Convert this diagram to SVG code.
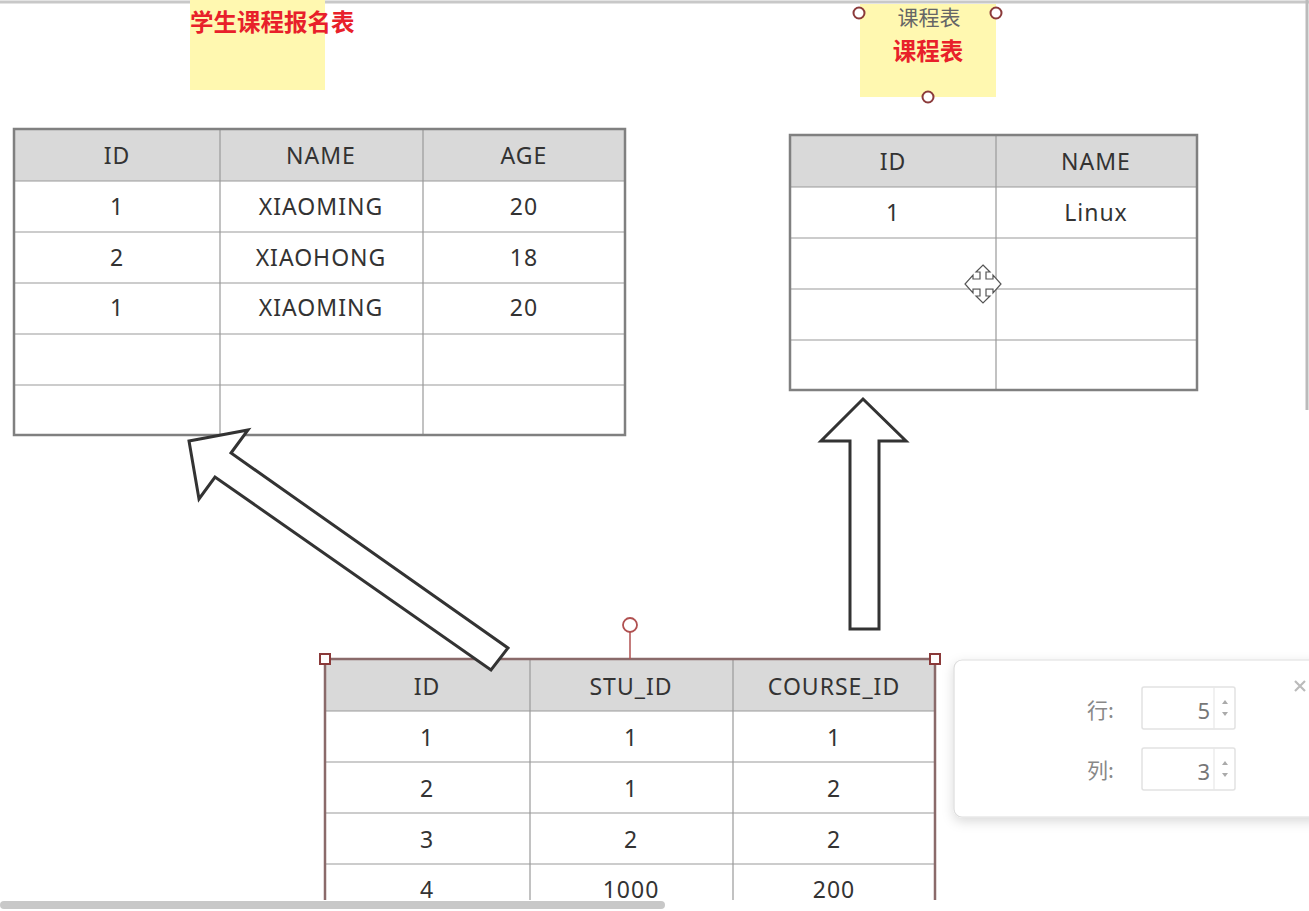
<svg xmlns="http://www.w3.org/2000/svg" width="1309" height="911" viewBox="0 0 1309 911">
<defs>
<style>
.t{font-family:"Noto Sans","Open Sans","Liberation Sans",sans-serif;font-size:23px;letter-spacing:1px;fill:#333;text-anchor:middle}
.hd{fill:#d9d9d9}
.in{stroke:#9a9a9a;stroke-width:1.2;fill:none}
.out{stroke:#808080;stroke-width:2.5;fill:none}
.cj{font-family:"Noto Sans CJK SC","Noto Sans",sans-serif}
.red{fill:#e8202a;font-weight:bold;font-size:23.5px}
.arrow{fill:#fff;stroke:#333;stroke-width:3;stroke-linejoin:miter}
.hdl{fill:#fff;stroke:#8b3a3a;stroke-width:2}
.dl{font-family:"Noto Sans CJK SC","Noto Sans",sans-serif;font-size:21px;fill:#888}
</style>
<filter id="sh" x="-10%" y="-10%" width="130%" height="140%"><feDropShadow dx="0" dy="4" stdDeviation="6" flood-color="#000" flood-opacity="0.15"/></filter>
</defs>
<rect width="1309" height="911" fill="#fff"/>
<line x1="0" y1="2" x2="1309" y2="2" stroke="#c8c8c8" stroke-width="3"/>
<line x1="1307" y1="0" x2="1307" y2="410" stroke="#bbb" stroke-width="3"/>

<g id="note-student">
<rect x="190" y="0" width="135" height="90" fill="#fff8b0"/>
<text x="190" y="31" class="cj red">学生课程报名表</text>
</g>

<g id="note-course">
<rect x="860" y="4" width="136" height="93" fill="#fff8b0"/>
<text x="929" y="25" class="cj" font-size="21" fill="#666" text-anchor="middle">课程表</text>
<text x="928" y="60" class="cj red" text-anchor="middle" font-size="23">课程表</text>
<circle cx="859" cy="13" r="5.5" class="hdl"/>
<circle cx="996" cy="13" r="5.5" class="hdl"/>
<circle cx="928" cy="97" r="5.5" class="hdl"/>
</g>

<g id="table-student">
<rect x="14" y="129" width="611" height="52" class="hd"/>
<path class="in" d="M220 129V435M423 129V435M14 181H625M14 232H625M14 283H625M14 334H625M14 385H625"/>
<rect x="14" y="129" width="611" height="306" class="out"/>
<text class="t" x="117" y="164">ID</text><text class="t" x="321" y="164">NAME</text><text class="t" x="524" y="164">AGE</text>
<text class="t" x="117" y="215">1</text><text class="t" x="321" y="215">XIAOMING</text><text class="t" x="524" y="215">20</text>
<text class="t" x="117" y="266">2</text><text class="t" x="321" y="266">XIAOHONG</text><text class="t" x="524" y="266">18</text>
<text class="t" x="117" y="316">1</text><text class="t" x="321" y="316">XIAOMING</text><text class="t" x="524" y="316">20</text>
</g>

<g id="table-course">
<rect x="790" y="135" width="407" height="52" class="hd"/>
<path class="in" d="M996 135V390M790 187H1197M790 238H1197M790 289H1197M790 340H1197"/>
<rect x="790" y="135" width="407" height="255" class="out"/>
<text class="t" x="893" y="170">ID</text><text class="t" x="1096" y="170">NAME</text>
<text class="t" x="893" y="221">1</text><text class="t" x="1096" y="221">Linux</text>
</g>

<g id="move-cursor" fill="#fff" stroke="#555" stroke-width="1.2">
<path d="M983 265L990 272H986V279H993V275L1001 284L993 293V289H986V296H990L983 303L976 296H980V289H973V293L965 284L973 275V279H980V272H976Z"/>
</g>

<g id="table-enroll">
<rect x="325" y="659" width="610" height="52" class="hd"/>
<path class="in" d="M530 659V911M733 659V911M325 711H935M325 762H935M325 813H935M325 864H935"/>
<path d="M325 911V659H935V911" fill="none" stroke="#8a6a6a" stroke-width="2.5"/>
<text class="t" x="427" y="695">ID</text><text class="t" x="631" y="695">STU_ID</text><text class="t" x="834" y="695">COURSE_ID</text>
<text class="t" x="427" y="746">1</text><text class="t" x="631" y="746">1</text><text class="t" x="834" y="746">1</text>
<text class="t" x="427" y="797">2</text><text class="t" x="631" y="797">1</text><text class="t" x="834" y="797">2</text>
<text class="t" x="427" y="848">3</text><text class="t" x="631" y="848">2</text><text class="t" x="834" y="848">2</text>
<text class="t" x="427" y="898">4</text><text class="t" x="631" y="898">1000</text><text class="t" x="834" y="898">200</text>
<line x1="630" y1="632" x2="630" y2="659" stroke="#b05050" stroke-width="1.5"/>
<circle cx="630" cy="625" r="7" fill="#fff" stroke="#b05050" stroke-width="1.8"/>
<rect x="320" y="654" width="10" height="10" class="hdl"/>
<rect x="930" y="654" width="10" height="10" class="hdl"/>
</g>

<g id="connectors">
<polygon class="arrow" points="189,441 248,430 231,453 508,648 491,670 215,477 199,499"/>
<polygon class="arrow" points="863,399 906,441 879,441 879,629 850,629 850,441 821,441"/>
</g>

<g id="dialog">
<rect x="954" y="660" width="370" height="157" rx="8" fill="#fff" stroke="#ddd" stroke-width="1.2" filter="url(#sh)"/>
<path d="M1295 681l10 10M1305 681l-10 10" stroke="#bbb" stroke-width="2.2"/>
<text x="1087" y="718" class="dl">行:</text>
<text x="1087" y="778" class="dl">列:</text>
<rect x="1142" y="687" width="93" height="42" fill="#fff" stroke="#e2e2e2" stroke-width="1.5" rx="2"/>
<line x1="1214" y1="687" x2="1214" y2="729" stroke="#e8e8e8" stroke-width="1.2"/>
<text x="1210" y="719" font-family="Noto Sans,sans-serif" font-size="22" fill="#777" text-anchor="end">5</text>
<path d="M1222 704l3-4 3 4ZM1222 712l3 4 3-4Z" fill="#aaa"/>
<rect x="1142" y="748" width="93" height="42" fill="#fff" stroke="#e2e2e2" stroke-width="1.5" rx="2"/>
<line x1="1214" y1="748" x2="1214" y2="790" stroke="#e8e8e8" stroke-width="1.2"/>
<text x="1210" y="780" font-family="Noto Sans,sans-serif" font-size="22" fill="#777" text-anchor="end">3</text>
<path d="M1222 765l3-4 3 4ZM1222 773l3 4 3-4Z" fill="#aaa"/>
</g>

<rect x="0" y="900" width="1309" height="11" fill="#fff"/>
<rect x="0" y="901" width="665" height="8" rx="4" fill="#c8c8c8"/>
</svg>
